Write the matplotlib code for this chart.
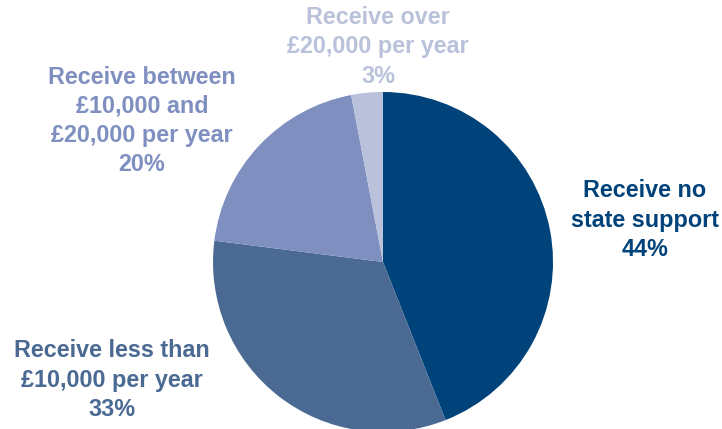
import matplotlib.pyplot as plt

plt.rcParams["font.family"] = ["Liberation Sans", "DejaVu Sans"]

# share of people by level of state support
labels = [
    "Receive no\nstate support",
    "Receive less than\n£10,000 per year",
    "Receive between\n£10,000 and\n£20,000 per year",
    "Receive over\n£20,000 per year",
]
shares = [44, 33, 20, 3]
colors = ["#00427a", "#4a6a93", "#7e8fc0", "#b9c2da"]

# label anchor points (figure pixels, y measured from the bottom)
label_xy = [(645, 209), (112, 49), (142, 308), (378, 382)]

W, H = 722, 429
fig = plt.figure(figsize=(W / 100, H / 100), dpi=100)
ax = fig.add_axes([0, 0, 1, 1])

ax.pie(
    shares,
    colors=colors,
    startangle=90,
    counterclock=False,
    center=(383, 167),
    radius=170,
    wedgeprops={"linewidth": 0},
)
ax.set_xlim(0, W)
ax.set_ylim(0, H)
ax.set_aspect("equal")
ax.axis("off")

for text, pct, (x, y), c in zip(labels, shares, label_xy, colors):
    ax.text(x, y, f"{text}\n{pct}%", ha="center", va="center",
            fontsize=16.8, fontweight="bold", color=c, linespacing=1.34)

fig.savefig("out.png", dpi=100)
